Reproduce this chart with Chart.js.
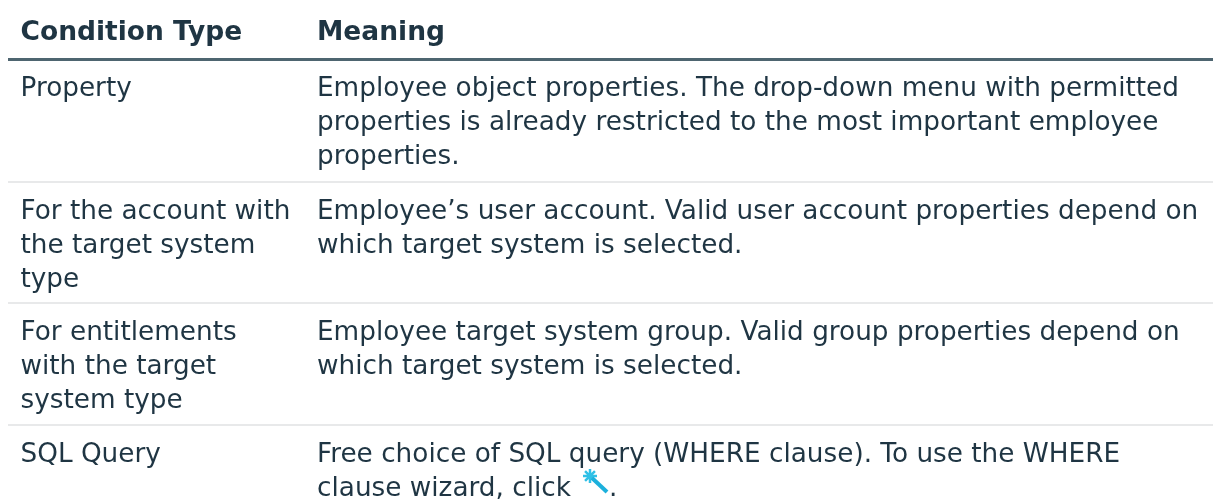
<!DOCTYPE html>
<html>
<head>
<meta charset="utf-8">
<title>Condition types</title>
<script src="https://cdn.jsdelivr.net/npm/chart.js@4/dist/chart.umd.min.js"></script>
<style>
  html, body { margin: 0; padding: 0; background: #fff; overflow: hidden; }
  #wrap { width: 1213px; height: 499px; }
</style>
</head>
<body>
<div id="wrap"><canvas id="tableChart"></canvas></div>
<script>
const headers = ['Condition Type', 'Meaning'];
const conditionLines = [
  ['Property'],
  ['For the account with', 'the target system', 'type'],
  ['For entitlements', 'with the target', 'system type'],
  ['SQL Query']
];
const meaningLines = [
  ['Employee object properties. The drop-down menu with permitted', 'properties is already restricted to the most important employee', 'properties.'],
  ['Employee\u2019s user account. Valid user account properties depend on', 'which target system is selected.'],
  ['Employee target system group. Valid group properties depend on', 'which target system is selected.'],
  ['Free choice of SQL query (WHERE clause). To use the WHERE', 'clause wizard, click']
];
const columnStarts = [20.5, 317];
const ruleRows = [59, 182, 303, 425];
const wandHandle = [{ x: 592, y: 478 }, { x: 607, y: 492 }];
const wandSpark = [{ x: 590, y: 476 }];
const textColor = '#1f3543';
const fontFamily = '"DejaVu Sans", Verdana, sans-serif';

const textPlugin = {
  id: 'tableText',
  afterDatasetsDraw(chart) {
    const { ctx, scales: { x, y } } = chart;
    ctx.save();
    ctx.fillStyle = textColor;
    ctx.textBaseline = 'alphabetic';
    ctx.font = 'bold 26.5px ' + fontFamily;
    headers.forEach((h, i) => ctx.fillText(h, x.getPixelForValue(columnStarts[i]), y.getPixelForValue(40)));
    ctx.font = '26.3px ' + fontFamily;
    ruleRows.forEach((top, r) => {
      conditionLines[r].forEach((line, l) => ctx.fillText(line, x.getPixelForValue(columnStarts[0]), y.getPixelForValue(top + 37 + l * 33.8)));
      meaningLines[r].forEach((line, l) => ctx.fillText(line, x.getPixelForValue(columnStarts[1]), y.getPixelForValue(top + 37 + l * 33.8)));
    });
    // der Punkt hinter dem Zauberstab
    ctx.fillText('.', x.getPixelForValue(609), y.getPixelForValue(495.6));
    ctx.restore();
  }
};

new Chart(document.getElementById('tableChart'), {
  type: 'scatter',
  data: {
    datasets: [
      { data: wandHandle, showLine: true, borderColor: '#1cb0dc', borderWidth: 4, pointRadius: 0 },
      { data: wandSpark, pointStyle: 'star', pointRadius: 7, borderColor: '#2fc0e6', borderWidth: 2.5, backgroundColor: '#2fc0e6' }
    ]
  },
  options: {
    responsive: true,
    maintainAspectRatio: false,
    animation: false,
    layout: { autoPadding: false, padding: { left: 8 } },
    plugins: { legend: { display: false }, tooltip: { enabled: false } },
    scales: {
      x: { type: 'linear', min: 8, max: 1213, display: false },
      y: {
        type: 'linear', min: 0, max: 499, reverse: true,
        afterBuildTicks: (scale) => { scale.ticks = ruleRows.map(value => ({ value })); },
        border: { display: false },
        ticks: { display: false },
        grid: {
          drawTicks: false,
          color: (c) => c.index === 0 ? '#4e6570' : '#e8e9ea',
          lineWidth: (c) => c.index === 0 ? 3 : 2
        }
      }
    }
  },
  plugins: [textPlugin]
});
</script>
</body>
</html>
